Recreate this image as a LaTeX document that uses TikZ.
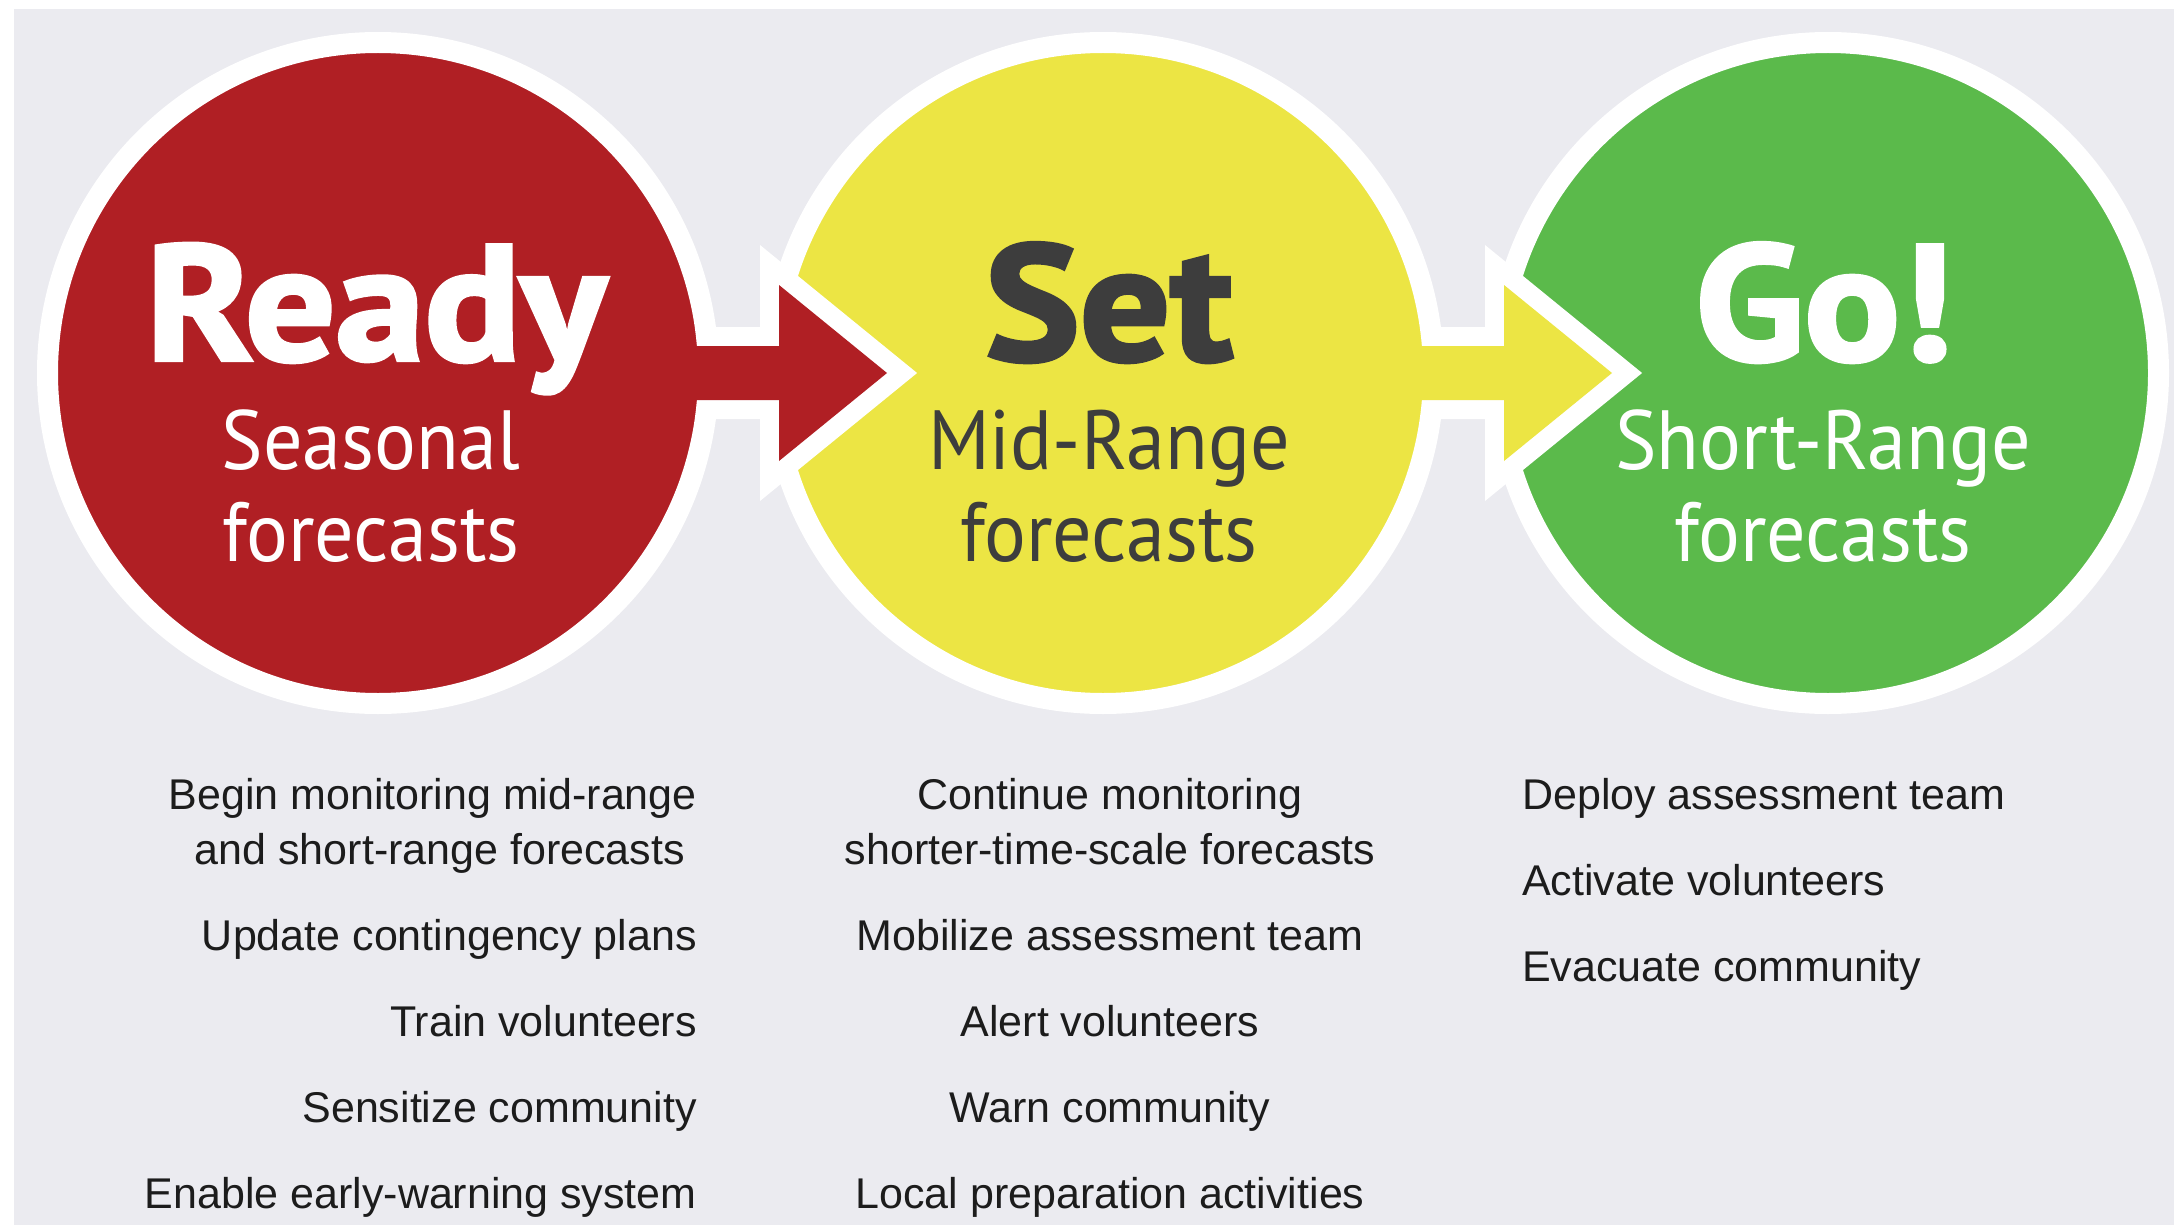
\documentclass[tikz,border=0pt]{standalone}
\usepackage{fontspec}
\setmainfont{Liberation Sans}
\newfontfamily\headfont{PT Sans}[BoldFeatures={FakeBold=2.5, FakeStretch=1.09}]
\newfontfamily\subfont{PT Sans}[FakeStretch=0.93]
\usepackage{tikz}
\usetikzlibrary{positioning}

\definecolor{readyred}{RGB}{176,31,36}
\definecolor{setyellow}{RGB}{236,229,68}
\definecolor{gogreen}{RGB}{91,186,75}
\definecolor{panel}{RGB}{235,235,240}
\definecolor{darktext}{RGB}{61,61,61}
\definecolor{listtext}{RGB}{28,28,28}

% fat arrow leaving a disc, white rim first, then the fill
\newcommand{\steparrow}[2]{%
  \begin{scope}[shift={(#1.center)}]
    \draw[white, line width=38pt, line join=miter]
      (319,-27) -- (401,-27) -- (401,-88) -- (509,0) -- (401,88) -- (401,27) -- (319,27);
    \fill[#2]
      (300,-27) -- (401,-27) -- (401,-88) -- (509,0) -- (401,88) -- (401,27) -- (300,27) -- cycle;
  \end{scope}}

\begin{document}
\begin{tikzpicture}[x=1pt, y=-1pt, node distance=725pt,
  disc/.style={circle, draw=white, line width=21pt, minimum size=661pt, inner sep=0pt},
  title/.style={font=\headfont\bfseries\fontsize{164}{164}\selectfont, inner sep=0pt, anchor=base},
  sub/.style={font=\subfont\fontsize{84}{92}\selectfont, inner sep=0pt, anchor=base},
  item/.style={font=\fontsize{43}{52}\selectfont, text=listtext, inner sep=0pt}]

\useasboundingbox (0,0) rectangle (2174,1225);
\fill[white] (0,0) rectangle (2174,1225);
\fill[panel] (14,9) rectangle (2174,1225);

% the three stages
\node[disc, fill=readyred] (ready) at (378,373) {};
\node[disc, fill=setyellow] (set) [right of=ready] {};
\node[disc, fill=gogreen] (go) [right of=set] {};

\steparrow{ready}{readyred}
\steparrow{set}{setyellow}

% labels inside the discs
\node[title, text=white] (readyt) at ([xshift=-2pt, yshift=13pt]ready.center) {Ready};
\node[sub, text=white] (readys1) at ([xshift=-7pt, yshift=-96pt]ready.center) {Seasonal};
\node[sub, text=white] (readys2) at ([yshift=-92pt]readys1.base) {forecasts};

\node[title, text=darktext] (sett) at ([xshift=6pt, yshift=13pt]set.center) {Set};
\node[sub, text=darktext] (sets1) at ([xshift=6pt, yshift=-96pt]set.center) {Mid-Range};
\node[sub, text=darktext] (sets2) at ([yshift=-92pt]sets1.base) {forecasts};

\node[title, text=white] (got) at ([xshift=-4pt, yshift=13pt]go.center) {Go!};
\node[sub, text=white] (gos1) at ([xshift=-5pt, yshift=-96pt]go.center) {Short-Range};
\node[sub, text=white] (gos2) at ([yshift=-92pt]gos1.base) {forecasts};

% what to do at each stage
\node[item, anchor=base east] (r1) at (697,809) {Begin monitoring mid-range};
\node[item, anchor=base east] (r2) at (685,864) {and short-range forecasts};
\node[item, anchor=base east] (r3) at (697,950) {Update contingency plans};
\node[item, anchor=base east] (r4) at (697,1036) {Train volunteers};
\node[item, anchor=base east] (r5) at (697,1122) {Sensitize community};
\node[item, anchor=base east] (r6) at (697,1208) {Enable early-warning system};

\node[item, anchor=base] (s1) at (1110,809) {Continue monitoring};
\node[item, anchor=base] (s2) at (1110,864) {shorter-time-scale forecasts};
\node[item, anchor=base] (s3) at (1110,950) {Mobilize assessment team};
\node[item, anchor=base] (s4) at (1110,1036) {Alert volunteers};
\node[item, anchor=base] (s5) at (1110,1122) {Warn community};
\node[item, anchor=base] (s6) at (1110,1208) {Local preparation activities};

\node[item, anchor=base west] (g1) at (1522,809) {Deploy assessment team};
\node[item, anchor=base west] (g2) at (1522,895) {Activate volunteers};
\node[item, anchor=base west] (g3) at (1522,981) {Evacuate community};
\end{tikzpicture}
\end{document}
